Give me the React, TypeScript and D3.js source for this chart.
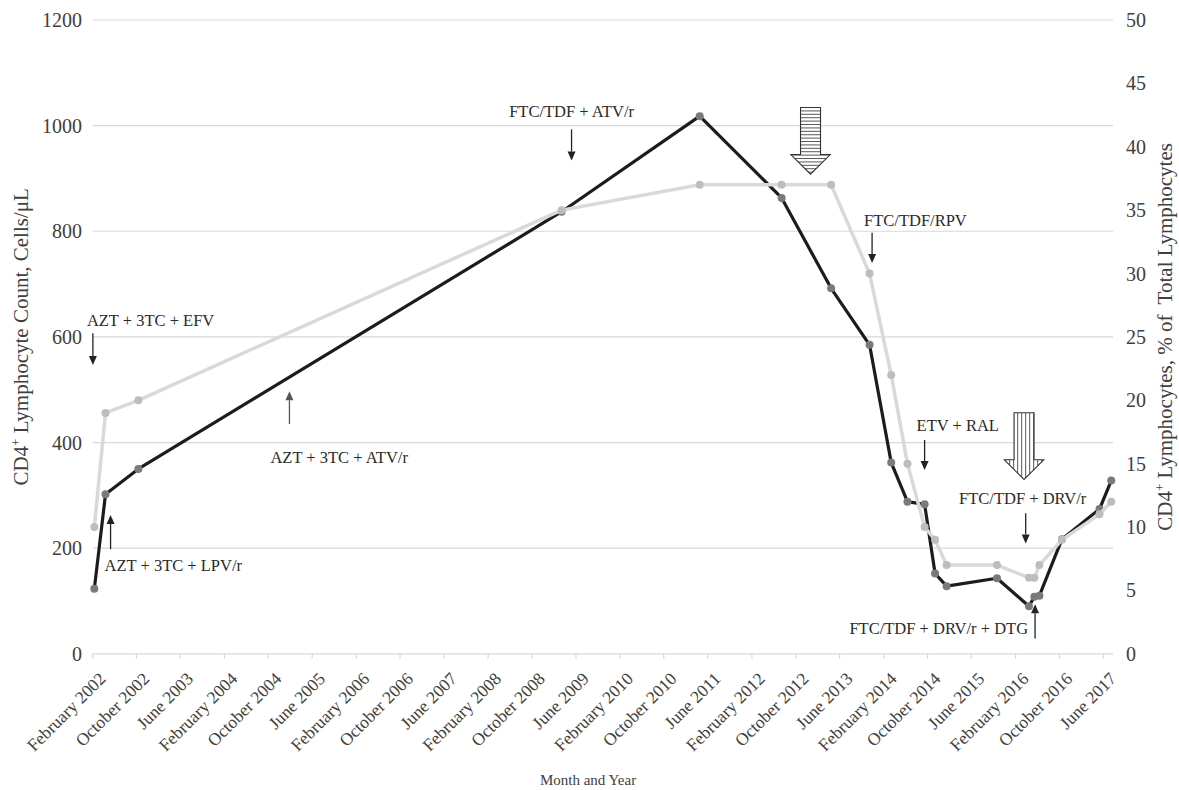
import React from "react";
import * as d3 from "d3";

// ---------- data ----------
const visitDates = [
  "2002-02-10", "2002-04-13", "2002-10-12", "2009-03-14", "2011-04-18",
  "2012-07-15", "2013-04-15", "2013-11-14", "2014-03-14", "2014-06-12",
  "2014-09-15", "2014-11-12", "2015-01-15", "2015-10-21", "2016-04-15",
  "2016-05-15", "2016-06-12", "2016-10-15", "2017-05-11", "2017-07-15",
];
const cd4Counts = [123, 302, 350, 837, 1018, 863, 692, 585, 362, 288, 283, 152, 128, 143, 90, 108, 110, 217, 274, 328];
const cd4Percents = [10, 19, 20, 35, 37, 37, 37, 30, 22, 15, 10, 9, 7, 7, 6, 6, 7, 9, 11, 12];

const leftTicks = [0, 200, 400, 600, 800, 1000, 1200];
const rightTicks = [0, 5, 10, 15, 20, 25, 30, 35, 40, 45, 50];
const firstTickMonth = "2002-02-01";
const tickCount = 24;
const tickStepMonths = 8;

// regimen annotations (date of arrow, arrow from/to in cells/µL, label baseline in cells/µL)
const regimenLabels = [
  "AZT + 3TC + EFV", "AZT + 3TC + LPV/r", "AZT + 3TC + ATV/r", "FTC/TDF + ATV/r",
  "FTC/TDF/RPV", "ETV + RAL", "FTC/TDF + DRV/r", "FTC/TDF + DRV/r + DTG",
];
const regimenDates = [
  "2002-02-02", "2002-05-11", "2005-01-26", "2009-05-08",
  "2013-11-28", "2014-09-15", "2016-03-28", "2016-05-19",
];
const arrowFrom = [607, 198, 435, 993, 797, 405, 266, 29];
const arrowTo = [547, 263, 497, 934, 740, 348, 209, 94];
const labelValues = [620, 157, 362, 1016, 810, 422, 284, 37];

// big hatched arrows
const switchDates = ["2012-12-22", "2016-03-19"];
const switchTipValues = [908, 330];

// ---------- layout ----------
const W = 1179;
const H = 790;
const X0 = 92.7;
const XTICK_END = 1103.3;
const XR = 1113;
const YB = 653.8;
const YT = 20;
const FONT = "'Liberation Serif', 'Times New Roman', serif";

const labelAnchor = ["start", "start", "start", "middle", "start", "start", "middle", "end"];
const labelDx = [-6, -6, -19, 0, -8, -8, -3, -7];
const arrowColor = ["#222", "#222", "#555", "#222", "#222", "#222", "#222", "#222"];
const hatchDir = ["h", "v"];

const parse = d3.timeParse("%Y-%m-%d");

export default function App() {
  const start = parse(firstTickMonth)!;
  const tickDates = d3.range(tickCount).map((i) => d3.timeMonth.offset(start, i * tickStepMonths));
  const x = d3.scaleTime().domain([start, tickDates[tickDates.length - 1]]).range([X0, XTICK_END]);
  const yL = d3.scaleLinear().domain([0, 1200]).range([YB, YT]);
  const yR = d3.scaleLinear().domain([0, 50]).range([YB, YT]);
  const fmt = d3.timeFormat("%B %Y");

  const dates = visitDates.map((d) => parse(d)!);
  const countPts: [number, number][] = dates.map((d, i) => [x(d), yL(cd4Counts[i])]);
  const pctPts: [number, number][] = dates.map((d, i) => [x(d), yR(cd4Percents[i])]);
  const line = d3.line();

  const smallArrows = regimenLabels.map((label, i) => {
    const ax = x(parse(regimenDates[i])!);
    const y1 = yL(arrowFrom[i]);
    const y2 = yL(arrowTo[i]);
    const dir = y2 > y1 ? 1 : -1;
    const headLen = 9;
    const headHalf = 4;
    const yBase = y2 - dir * headLen;
    return (
      <g key={label}>
        <line x1={ax} y1={y1} x2={ax} y2={yBase} stroke={arrowColor[i]} strokeWidth={1.3} />
        <polygon
          points={`${ax},${y2} ${ax - headHalf},${yBase} ${ax + headHalf},${yBase}`}
          fill={arrowColor[i]}
        />
        <text
          x={ax + labelDx[i]}
          y={yL(labelValues[i])}
          textAnchor={labelAnchor[i] as any}
          fontSize={16.5}
          fill="#2a2a2a"
          fontFamily={FONT}
          style={{ whiteSpace: "pre" }}
        >
          {label}
        </text>
      </g>
    );
  });

  const bigArrows = switchDates.map((d, i) => {
    const tx = x(parse(d)!);
    const ty = yL(switchTipValues[i]);
    const sh = 10;
    const hh = 19.7;
    const hl = 19.7;
    const sl = 47;
    const top = ty - hl - sl;
    const pts: [number, number][] = [
      [tx - sh, top], [tx + sh, top], [tx + sh, ty - hl], [tx + hh, ty - hl],
      [tx, ty], [tx - hh, ty - hl], [tx - sh, ty - hl],
    ];
    const ptsStr = pts.map((p) => p.join(",")).join(" ");
    const id = `clip-big-${i}`;
    const stripes =
      hatchDir[i] === "h"
        ? d3.range(top + 3.4, ty, 3.4).map((yy) => (
            <line key={yy} x1={tx - hh} x2={tx + hh} y1={yy} y2={yy} stroke="#444" strokeWidth={0.9} />
          ))
        : d3.range(tx - hh + 1.3, tx + hh, 4).map((xx) => (
            <line key={xx} x1={xx} x2={xx} y1={top} y2={ty} stroke="#444" strokeWidth={0.9} />
          ));
    return (
      <g key={d}>
        <defs>
          <clipPath id={id}>
            <polygon points={ptsStr} />
          </clipPath>
        </defs>
        <polygon points={ptsStr} fill="#fff" />
        <g clipPath={`url(#${id})`}>{stripes}</g>
        <polygon points={ptsStr} fill="none" stroke="#333" strokeWidth={1.1} />
      </g>
    );
  });

  return (
    <div style={{ position: "absolute", left: 0, top: 0 }}>
      <svg width={W} height={H} style={{ display: "block", background: "#fff" }}>
        {/* gridlines */}
        {leftTicks.map((t) => (
          <line key={t} x1={X0} x2={XR} y1={yL(t)} y2={yL(t)} stroke="#d9d9d9" strokeWidth={1.2} />
        ))}
        {/* x ticks */}
        {tickDates.map((d) => (
          <line key={+d} x1={x(d)} x2={x(d)} y1={YB} y2={YB + 5} stroke="#d9d9d9" strokeWidth={1.2} />
        ))}
        {/* left tick labels */}
        {leftTicks.map((t) => (
          <text key={t} x={82} y={yL(t)} dy="0.35em" textAnchor="end" fontSize={20} fill="#404040" fontFamily={FONT}>
            {t}
          </text>
        ))}
        {/* right tick labels */}
        {rightTicks.map((t) => (
          <text key={t} x={1126} y={yR(t)} dy="0.35em" textAnchor="start" fontSize={20} fill="#404040" fontFamily={FONT}>
            {t}
          </text>
        ))}
        {/* x tick labels */}
        {tickDates.map((d) => (
          <text
            key={+d}
            transform={`translate(${x(d) + 14},${YB + 26}) rotate(-45)`}
            textAnchor="end"
            fontSize={17.5}
            fill="#404040"
            fontFamily={FONT}
          >
            {fmt(d)}
          </text>
        ))}
        {/* axis titles */}
        <text x={588} y={785} textAnchor="middle" fontSize={15} fill="#404040" fontFamily={FONT}>
          Month and Year
        </text>
        <text
          transform={`translate(28,${(YB + YT) / 2}) rotate(-90)`}
          textAnchor="middle"
          fontSize={21}
          fill="#404040"
          fontFamily={FONT}
        >
          CD4<tspan dy={-8} fontSize={13}>+</tspan>
          <tspan dy={8}> Lymphocyte Count, Cells/μL</tspan>
        </text>
        <text
          transform={`translate(1172,${(YB + YT) / 2}) rotate(-90)`}
          textAnchor="middle"
          fontSize={21}
          fill="#404040"
          fontFamily={FONT}
          style={{ whiteSpace: "pre" }}
        >
          CD4<tspan dy={-8} fontSize={13}>+</tspan>
          <tspan dy={8}>{" Lymphocytes, % of  Total Lymphocytes"}</tspan>
        </text>

        {/* series: CD4 count */}
        <path d={line(countPts)!} fill="none" stroke="#1c1c1c" strokeWidth={3.2} strokeLinejoin="round" />
        {countPts.map((p, i) => (
          <circle key={i} cx={p[0]} cy={p[1]} r={4} fill="#7a7a7a" />
        ))}
        {/* series: CD4 % */}
        <path d={line(pctPts)!} fill="none" stroke="#d9d9d9" strokeWidth={3.5} strokeLinejoin="round" />
        {pctPts.map((p, i) => (
          <circle key={i} cx={p[0]} cy={p[1]} r={4} fill="#bdbdbd" />
        ))}

        {smallArrows}
        {bigArrows}
      </svg>
    </div>
  );
}
